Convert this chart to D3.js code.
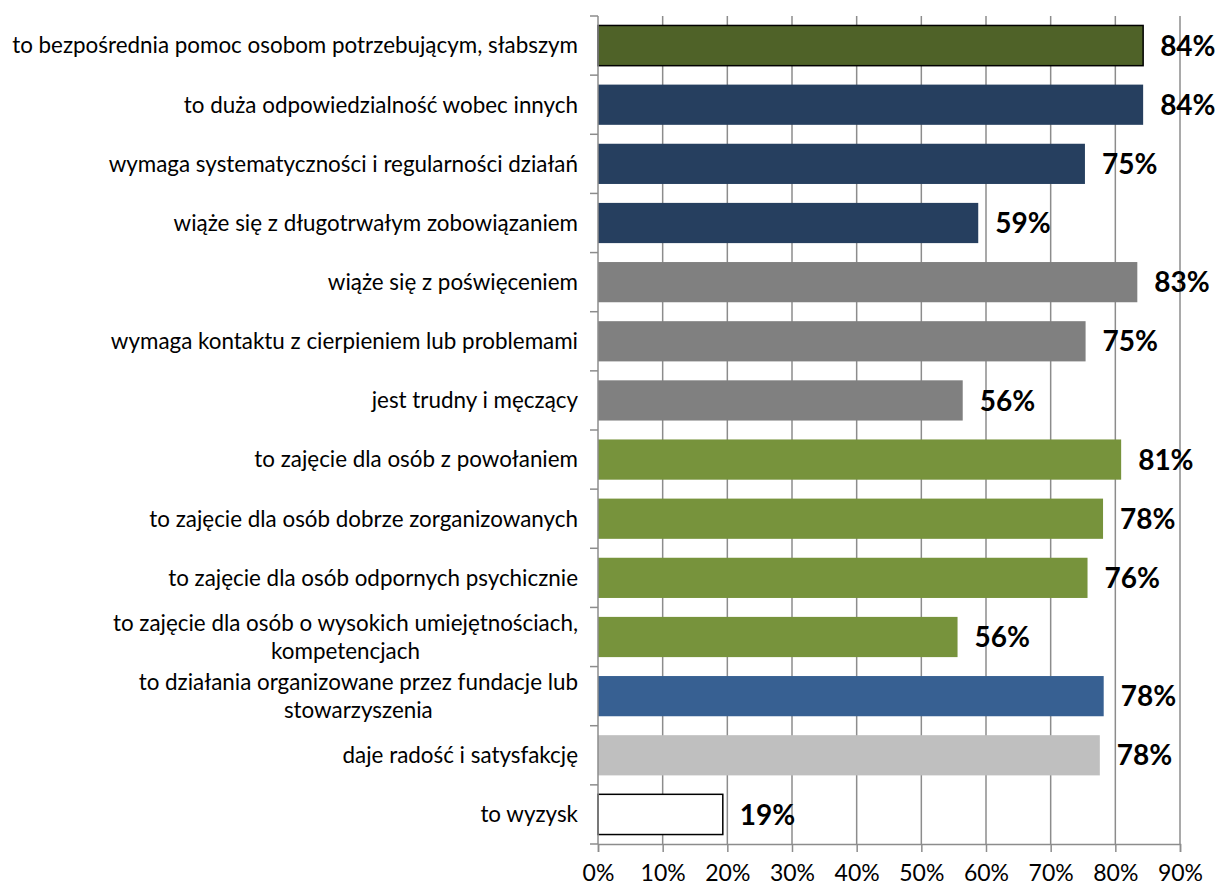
<!DOCTYPE html>
<html>
<head>
<meta charset="utf-8">
<script src="https://cdn.jsdelivr.net/npm/d3@7/dist/d3.min.js"></script>
<style>
  body { margin: 0; background: #fff; }
  svg text { font-family: Lato, "Open Sans", sans-serif; fill: #000; }
</style>
</head>
<body>
<script>
var categories = [
  "to bezpośrednia pomoc osobom potrzebującym, słabszym",
  "to duża odpowiedzialność wobec innych",
  "wymaga systematyczności i regularności działań",
  "wiąże się z długotrwałym zobowiązaniem",
  "wiąże się z poświęceniem",
  "wymaga kontaktu z cierpieniem lub problemami",
  "jest trudny i męczący",
  "to zajęcie dla osób z powołaniem",
  "to zajęcie dla osób dobrze zorganizowanych",
  "to zajęcie dla osób odpornych psychicznie",
  "to zajęcie dla osób o wysokich umiejętnościach,|kompetencjach",
  "to działania organizowane przez fundacje lub|stowarzyszenia",
  "daje radość i satysfakcję",
  "to wyzysk"
];
var values = [84.3, 84.3, 75.3, 58.8, 83.4, 75.4, 56.4, 80.9, 78.1, 75.7, 55.6, 78.2, 77.6, 19.3];
var barColors = ["#4f6228", "#263f5f", "#263f5f", "#263f5f", "#808080", "#808080", "#808080",
                 "#77933c", "#77933c", "#77933c", "#77933c", "#376092", "#bfbfbf", "#ffffff"];
var outlined = [true, false, false, false, false, false, false, false, false, false, false, false, false, true];
var tickValues = [0, 10, 20, 30, 40, 50, 60, 70, 80, 90];

var width = 1217, height = 887;
var margin = {left: 598, right: 37, top: 16, bottom: 43};

var svg = d3.select("body").append("svg").attr("width", width).attr("height", height);

var x = d3.scaleLinear().domain([0, 90]).range([margin.left, width - margin.right]);
var y = d3.scaleBand().domain(d3.range(categories.length))
          .range([margin.top, height - margin.bottom]).paddingInner(0.32).paddingOuter(0.16);

// gridlines
svg.append("g").selectAll("line")
   .data(tickValues.slice(1))
   .enter().append("line")
   .attr("x1", function(d){ return x(d); })
   .attr("x2", function(d){ return x(d); })
   .attr("y1", margin.top)
   .attr("y2", height - margin.bottom)
   .attr("stroke", "#8c8c8c").attr("stroke-width", 1.5);

// bars
svg.append("g").selectAll("rect")
   .data(values)
   .enter().append("rect")
   .attr("x", x(0))
   .attr("y", function(d, i){ return y(i); })
   .attr("width", function(d){ return x(d) - x(0); })
   .attr("height", y.bandwidth())
   .attr("fill", function(d, i){ return barColors[i]; })
   .attr("stroke", function(d, i){ return outlined[i] ? "#000" : "none"; })
   .attr("stroke-width", 1.5);

// value labels
svg.append("g").selectAll("text")
   .data(values)
   .enter().append("text")
   .attr("x", function(d){ return x(d) + 17; })
   .attr("y", function(d, i){ return y(i) + y.bandwidth() / 2; })
   .attr("dy", "0.36em")
   .style("font-size", "28px")
   .style("font-weight", "bold")
   .text(function(d){ return Math.round(d) + "%"; });

// x axis
var xAxis = d3.axisBottom(x).tickValues(tickValues).tickSize(8).tickPadding(13)
              .tickFormat(function(d){ return d + "%"; });
var gx = svg.append("g").attr("transform", "translate(0," + (height - margin.bottom) + ")").call(xAxis);
gx.select(".domain").attr("stroke", "#8c8c8c").attr("stroke-width", 1.5);
gx.selectAll(".tick line").attr("stroke", "#8c8c8c").attr("stroke-width", 1.5);
gx.selectAll("text").style("font-size", "23px").style("font-family", "Lato, sans-serif").attr("fill", "#000");

// y axis (ticks between categories)
var yTicks = d3.range(categories.length + 1).map(function(i){ return margin.top + i * (height - margin.top - margin.bottom) / categories.length; });
svg.append("line").attr("x1", x(0)).attr("x2", x(0))
   .attr("y1", margin.top).attr("y2", height - margin.bottom)
   .attr("stroke", "#8c8c8c").attr("stroke-width", 1.5);
svg.append("g").selectAll("line").data(yTicks).enter().append("line")
   .attr("x1", x(0) - 8).attr("x2", x(0))
   .attr("y1", function(d){ return d; }).attr("y2", function(d){ return d; })
   .attr("stroke", "#8c8c8c").attr("stroke-width", 1.5);

// category labels
var labelRight = x(0) - 20;
var cat = svg.append("g").selectAll("text")
   .data(categories)
   .enter().append("text")
   .style("font-size", "22.4px")
   .attr("y", function(d, i){ return y(i) + y.bandwidth() / 2; });

cat.each(function(d, i){
  var lines = d.split("|");
  var t = d3.select(this);
  var cy = y(i) + y.bandwidth() / 2;
  if (lines.length === 1) {
    t.attr("x", labelRight).attr("text-anchor", "end").attr("dy", "0.35em").text(d);
  } else {
    var spans = lines.map(function(l, k){
      return t.append("tspan").attr("y", cy + (k - (lines.length - 1) / 2) * 28).attr("dy", "0.35em").text(l);
    });
    var maxW = d3.max(spans, function(s){ return s.node().getComputedTextLength(); });
    var cx = labelRight - maxW / 2;
    t.attr("text-anchor", "middle");
    spans.forEach(function(s){ s.attr("x", cx); });
  }
});
</script>
</body>
</html>
